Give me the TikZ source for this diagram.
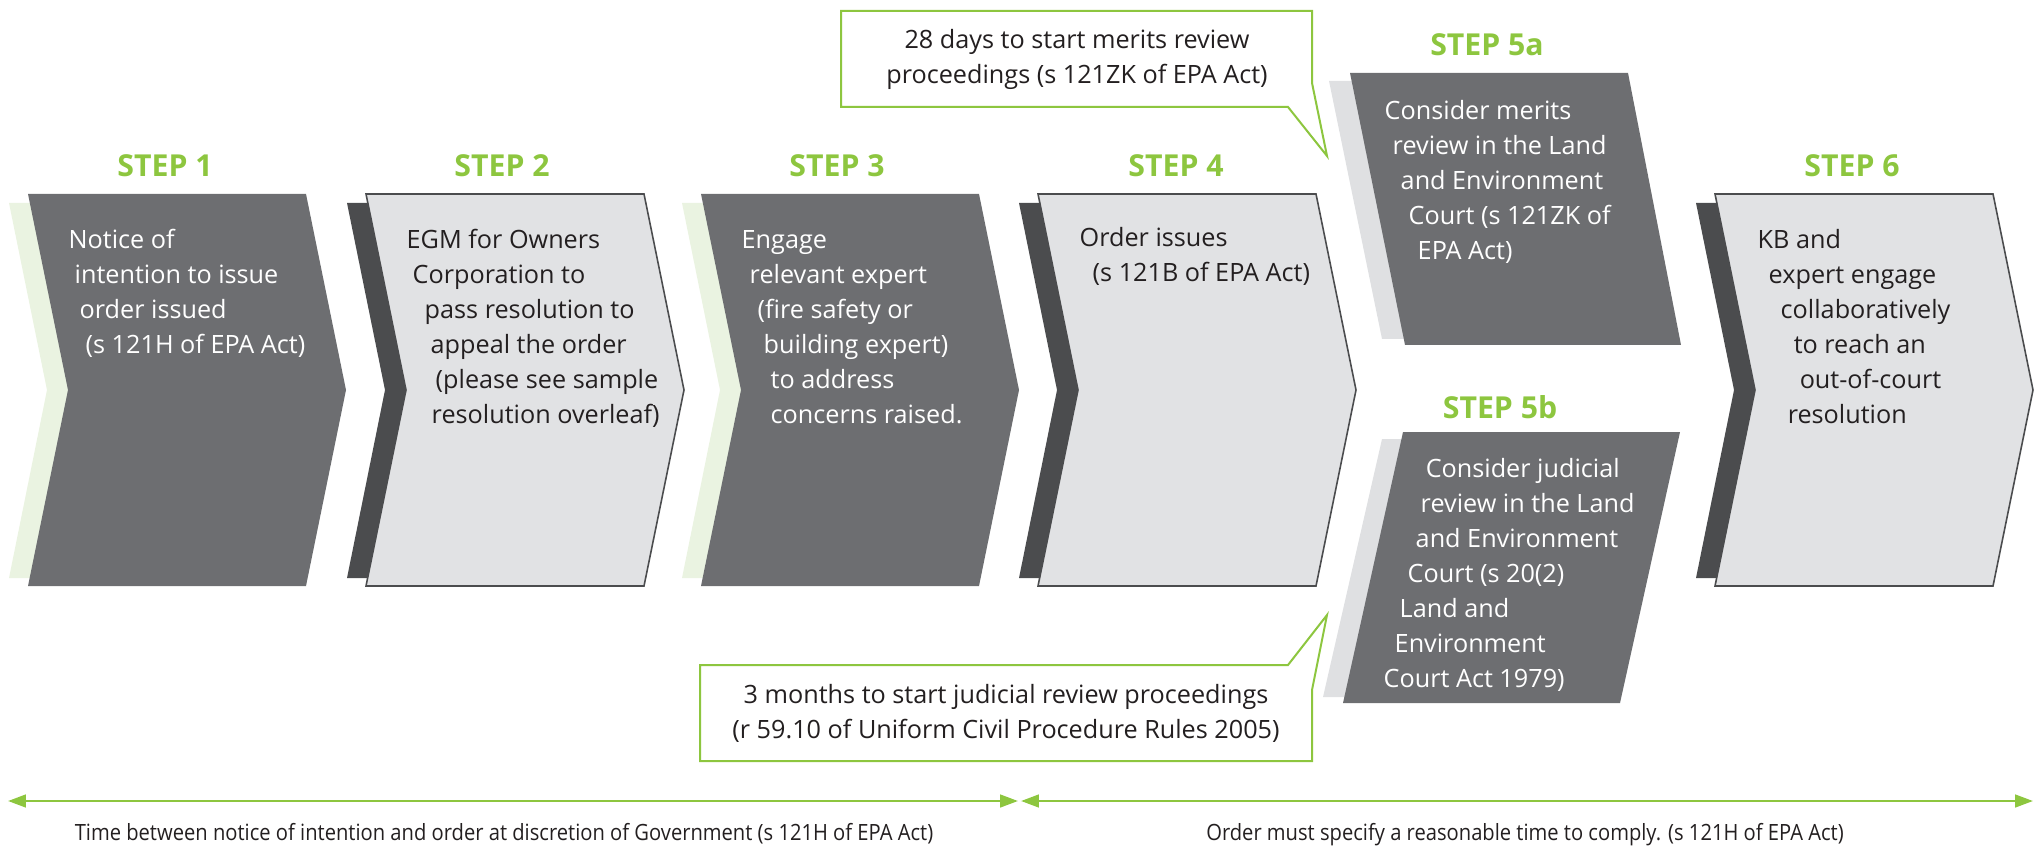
\documentclass[tikz,border=0pt]{standalone}
\usepackage{fontspec}
\setmainfont{Open Sans}
\newfontfamily\condfont[FakeStretch=0.9]{Open Sans}
\usetikzlibrary{arrows.meta}
\definecolor{stepgreen}{HTML}{8DC63F}
\definecolor{stepdark}{HTML}{6D6E71}
\definecolor{steplight}{HTML}{E1E2E4}
\definecolor{stepshade}{HTML}{4B4C4E}
\definecolor{greenshade}{HTML}{EAF3E1}
\definecolor{greyshade}{HTML}{DFE0E2}
\definecolor{inkcol}{HTML}{231F20}

\begin{document}
\begin{tikzpicture}[x=0.01cm,y=-0.01cm,
    body/.style={align=left,inner sep=0pt,anchor=north west,font=\fontsize{7.17}{9.96}\selectfont},
    steplabel/.style={anchor=base,text=stepgreen,font=\fontsize{8.6}{10}\selectfont\bfseries},
    balloon/.style={fill=white,draw=stepgreen,line width=0.57pt},
    timeline/.style={draw=stepgreen,line width=0.7pt,{Triangle[length=5.1pt,width=3.6pt]}-{Triangle[length=5.1pt,width=3.6pt]}}]
    \useasboundingbox (0,0) rectangle (2040,846);

    % shadows behind the chevrons
    \fill[greenshade] (9,203) -- ++(278,0) -- ++(38,187) -- ++(-38,188) -- ++(-278,0) -- ++(38,-188) -- cycle;
    \fill[stepshade] (347,203) -- ++(278,0) -- ++(38,187) -- ++(-38,188) -- ++(-278,0) -- ++(38,-188) -- cycle;
    \fill[greenshade] (682,203) -- ++(278,0) -- ++(38,187) -- ++(-38,188) -- ++(-278,0) -- ++(38,-188) -- cycle;
    \fill[stepshade] (1019,203) -- ++(278,0) -- ++(38,187) -- ++(-38,188) -- ++(-278,0) -- ++(38,-188) -- cycle;
    \fill[stepshade] (1696,203) -- ++(278,0) -- ++(38,187) -- ++(-38,188) -- ++(-278,0) -- ++(38,-188) -- cycle;
    \fill[greyshade] (1329,81) -- (1607,81) -- (1660,339) -- (1382,339) -- cycle;
    \fill[greyshade] (1382,439) -- (1660,439) -- (1601,697) -- (1323,697) -- cycle;

    % chevrons
    \fill[stepdark] (28,194) -- ++(278,0) -- ++(40,196) -- ++(-40,196) -- ++(-278,0) -- ++(40,-196) -- cycle;
    \filldraw[fill=steplight,draw=stepshade,line width=0.45pt] (366,194) -- ++(278,0) -- ++(40,196) -- ++(-40,196) -- ++(-278,0) -- ++(40,-196) -- cycle;
    \fill[stepdark] (701,194) -- ++(278,0) -- ++(40,196) -- ++(-40,196) -- ++(-278,0) -- ++(40,-196) -- cycle;
    \filldraw[fill=steplight,draw=stepshade,line width=0.45pt] (1038,194) -- ++(278,0) -- ++(40,196) -- ++(-40,196) -- ++(-278,0) -- ++(40,-196) -- cycle;
    \filldraw[fill=steplight,draw=stepshade,line width=0.45pt] (1715,194) -- ++(278,0) -- ++(40,196) -- ++(-40,196) -- ++(-278,0) -- ++(40,-196) -- cycle;
    \fill[stepdark] (1350,73) -- (1628,73) -- (1681,345) -- (1405,345) -- cycle;
    \fill[stepdark] (1403,432) -- (1680,432) -- (1620,703) -- (1343,703) -- cycle;

    % callouts
    \draw[balloon] (841,11) -- (1312,11) -- (1312,83) -- (1327,156) -- (1288,107) -- (841,107) -- cycle;
    \draw[balloon] (700,665) -- (1288,665) -- (1327,615) -- (1312,690) -- (1312,761) -- (700,761) -- cycle;
    \node[align=center,inner sep=0pt,anchor=north,text=inkcol,font=\fontsize{7.17}{9.96}\selectfont] (call1) at (1077,23.5)
        {\strut 28 days to start merits review\\proceedings (s 121ZK of EPA Act)};
    \node[align=center,inner sep=0pt,anchor=north,text=inkcol,font=\fontsize{7.17}{9.96}\selectfont] (call2) at (1006,678.5)
        {\strut 3 months to start judicial review proceedings\\(r 59.10 of Uniform Civil Procedure Rules 2005)};

    % step labels
    \node[steplabel] (lab1) at (165,177) {STEP 1};
    \node[steplabel] (lab2) at (502,177) {STEP 2};
    \node[steplabel] (lab3) at (837,177) {STEP 3};
    \node[steplabel] (lab4) at (1176,177) {STEP 4};
    \node[steplabel] (lab5a) at (1487,56) {STEP 5a};
    \node[steplabel] (lab5b) at (1500,418) {STEP 5b};
    \node[steplabel] (lab6) at (1852,177) {STEP 6};

    % step texts
    \node[body,text=white] (txt1) at (68,223.5) {\strut Notice of\\\hspace*{0.6mm}intention to issue\\\hspace*{1.1mm}order issued\\\hspace*{1.7mm}(s 121H of EPA Act)};
    \node[body,text=inkcol] (txt2) at (406,223.5) {\strut EGM for Owners\\\hspace*{0.6mm}Corporation to\\\hspace*{1.8mm}pass resolution to\\\hspace*{2.4mm}appeal the order\\\hspace*{2.9mm}(please see sample\\\hspace*{2.5mm}resolution overleaf)};
    \node[body,text=white] (txt3) at (741,223.5) {\strut Engage\\\hspace*{0.8mm}relevant expert\\\hspace*{1.6mm}(fire safety or\\\hspace*{2.2mm}building expert)\\\hspace*{2.9mm}to address\\\hspace*{2.9mm}concerns raised.};
    \node[body,text=inkcol] (txt4) at (1079,221.5) {\strut Order issues\\\hspace*{1.3mm}(s 121B of EPA Act)};
    \node[body,text=white] (txt5a) at (1384,94.5) {\strut Consider merits\\\hspace*{0.8mm}review in the Land\\\hspace*{1.6mm}and Environment\\\hspace*{2.4mm}Court (s 121ZK of\\\hspace*{3.3mm}EPA Act)};
    \node[body,text=white] (txt5b) at (1383,452.5) {\strut\hspace*{4.2mm}Consider judicial\\\hspace*{3.7mm}review in the Land\\\hspace*{3.2mm}and Environment\\\hspace*{2.4mm}Court (s 20(2)\\\hspace*{1.6mm}Land and\\\hspace*{1.1mm}Environment\\Court Act 1979)};
    \node[body,text=inkcol] (txt6) at (1757,223.5) {\strut KB and\\\hspace*{1.1mm}expert engage\\\hspace*{2.3mm}collaboratively\\\hspace*{3.6mm}to reach an\\\hspace*{4.2mm}out-of-court\\\hspace*{3.0mm}resolution};

    % time lines
    \coordinate (t0) at (8,801);
    \coordinate (t1) at (1018,801);
    \coordinate (t2) at (1021,801);
    \coordinate (t3) at (2033,801);
    \draw[timeline] (t0) -- (t1);
    \draw[timeline] (t2) -- (t3);
    \node[anchor=base,text=inkcol,font=\condfont\fontsize{6.37}{8}\selectfont] (note1) at (504,840)
        {Time between notice of intention and order at discretion of Government (s 121H of EPA Act)};
    \node[anchor=base,text=inkcol,font=\condfont\fontsize{6.37}{8}\selectfont] (note2) at (1525,840)
        {Order must specify a reasonable time to comply. (s 121H of EPA Act)};
\end{tikzpicture}
\end{document}
